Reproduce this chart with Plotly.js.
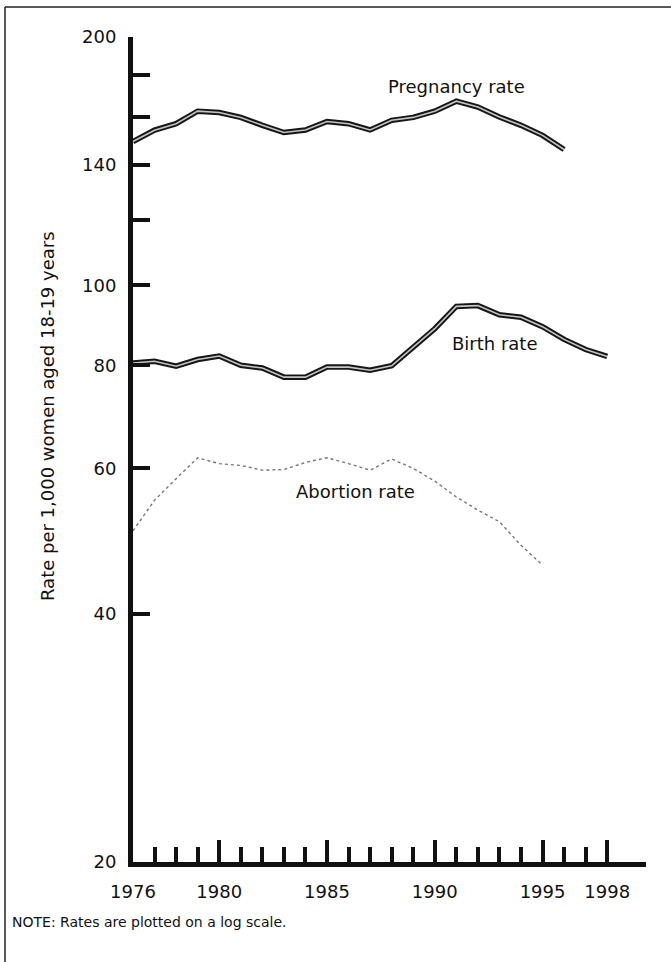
<!DOCTYPE html>
<html>
<head>
<meta charset="utf-8">
<script src="https://cdn.plot.ly/plotly-3.0.1.min.js"></script>
<style>
  html, body { margin: 0; padding: 0; background: #ffffff; }
  #chart { width: 671px; height: 962px; }
</style>
</head>
<body>
<div id="chart"></div>
<script>
// ---- data ----
const pregnancyYears = [1976, 1977, 1978, 1979, 1980, 1981, 1982, 1983, 1984, 1985, 1986,
  1987, 1988, 1989, 1990, 1991, 1992, 1993, 1994, 1995, 1996];
const pregnancyRate = [149.4, 154.2, 157.0, 162.6, 162.0, 159.8, 156.3, 153.2, 154.3, 158.0, 157.0,
  154.3, 158.5, 159.8, 162.6, 167.2, 164.5, 160.0, 156.3, 152.0, 146.1];

const birthYears = [1976, 1977, 1978, 1979, 1980, 1981, 1982, 1983, 1984, 1985, 1986,
  1987, 1988, 1989, 1990, 1991, 1992, 1993, 1994, 1995, 1996, 1997, 1998];
const birthRate = [80.5, 80.9, 79.8, 81.3, 82.1, 80.0, 79.4, 77.4, 77.4, 79.6, 79.6,
  78.9, 79.9, 84.2, 88.6, 94.3, 94.5, 92.1, 91.5, 89.1, 86.0, 83.6, 82.0];

const abortionYears = [1976, 1977, 1978, 1979, 1980, 1981, 1982, 1983, 1984, 1985,
  1986, 1987, 1988, 1989, 1990, 1991, 1992, 1993, 1994, 1995];
const abortionRate = [50.4, 54.9, 58.3, 61.8, 60.8, 60.5, 59.7, 59.8, 61.0, 61.8,
  60.8, 59.7, 61.6, 60.0, 57.9, 55.4, 53.4, 51.7, 48.4, 45.8];

const xLabelYears = [1976, 1980, 1985, 1990, 1995, 1998];
const xLabelText = ['1976', '1980', '1985', '1990', '1995', '1998'];
const xMinorYears = [1977, 1978, 1979, 1981, 1982, 1983, 1984, 1986, 1987, 1988, 1989,
  1991, 1992, 1993, 1994, 1996, 1997];

const yTickVals = [20, 40, 60, 80, 100, 120, 140, 160, 180, 200];
const yTickText = ['20', '40', '60', '80', '100', '', '140', '', '', '200'];

const seriesLabels = ['Pregnancy rate', 'Birth rate', 'Abortion rate'];
const yTitle = 'Rate per 1,000 women aged 18-19 years';
const noteText = 'NOTE: Rates are plotted on a log scale.';

// ---- figure ----
const FONT = 'DejaVu Sans, Arial, sans-serif';
const INK = '#111111';

function doubleLine(x, y) {
  return [
    { x: x, y: y, type: 'scatter', mode: 'lines', hoverinfo: 'skip',
      line: { color: '#161616', width: 5.5 } },
    { x: x, y: y, type: 'scatter', mode: 'lines', hoverinfo: 'skip',
      line: { color: '#c4c4c4', width: 1.6 } }
  ];
}

const traces = []
  .concat(doubleLine(pregnancyYears, pregnancyRate))
  .concat(doubleLine(birthYears, birthRate))
  .concat([{ x: abortionYears, y: abortionRate, type: 'scatter', mode: 'lines', hoverinfo: 'skip',
    line: { color: '#777777', width: 1.4, dash: 'dot' } }]);

const L = 133, R = 25, T = 37, B = 100;
const W = 671, H = 962;
const pw = W - L - R, ph = H - T - B;
const px = v => (v - L) / pw;       // pixel x -> paper x
const py = v => (H - B - v) / ph;   // pixel y -> paper y

const layout = {
  width: W, height: H,
  margin: { l: L, r: R, t: T, b: B, pad: 0 },
  paper_bgcolor: '#ffffff', plot_bgcolor: '#ffffff',
  showlegend: false,
  font: { family: FONT, size: 18, color: INK },
  xaxis: {
    range: [1976, 1999.8],
    showgrid: false, zeroline: false,
    showline: true, linecolor: INK, linewidth: 5,
    tickmode: 'array', tickvals: xLabelYears, ticktext: xLabelText,
    ticks: 'inside', ticklen: 22, tickwidth: 4, tickcolor: INK,
    ticklabelstandoff: 9,
    tickfont: { family: FONT, size: 18, color: INK },
    minor: { tickmode: 'array', tickvals: xMinorYears, ticks: 'inside',
      ticklen: 15, tickwidth: 4, tickcolor: INK, showgrid: false }
  },
  yaxis: {
    type: 'log',
    range: [Math.log10(20), Math.log10(200)],
    showgrid: false, zeroline: false,
    showline: true, linecolor: INK, linewidth: 5,
    tickmode: 'array', tickvals: yTickVals, ticktext: yTickText,
    ticks: 'inside', ticklen: 17, tickwidth: 4, tickcolor: INK,
    ticklabelstandoff: 8,
    tickfont: { family: FONT, size: 18, color: INK }
  },
  annotations: [
    { x: 1991.0, y: Math.log10(174.4), xref: 'x', yref: 'y', text: seriesLabels[0],
      showarrow: false, font: { family: FONT, size: 18, color: INK } },
    { x: 1992.8, y: Math.log10(85.1), xref: 'x', yref: 'y', text: seriesLabels[1],
      showarrow: false, font: { family: FONT, size: 18, color: INK } },
    { x: 1986.3, y: Math.log10(56.3), xref: 'x', yref: 'y', text: seriesLabels[2],
      showarrow: false, font: { family: FONT, size: 18, color: INK } },
    { x: px(48), y: py(416), xref: 'paper', yref: 'paper', text: yTitle,
      textangle: -90, showarrow: false, xanchor: 'center', yanchor: 'middle',
      font: { family: FONT, size: 18, color: INK } },
    { x: px(10), y: py(922), xref: 'paper', yref: 'paper', text: noteText,
      showarrow: false, xanchor: 'left', yanchor: 'middle',
      font: { family: FONT, size: 14, color: INK } }
  ],
  shapes: [
    { type: 'line', xref: 'paper', yref: 'paper', x0: px(5), x1: px(5), y0: py(7), y1: py(962),
      line: { color: '#222222', width: 1.5 } },
    { type: 'line', xref: 'paper', yref: 'paper', x0: px(5), x1: px(671), y0: py(7), y1: py(7),
      line: { color: '#222222', width: 1.5 } }
  ]
};

Plotly.newPlot('chart', traces, layout, { staticPlot: true, displayModeBar: false });
</script>
</body>
</html>
